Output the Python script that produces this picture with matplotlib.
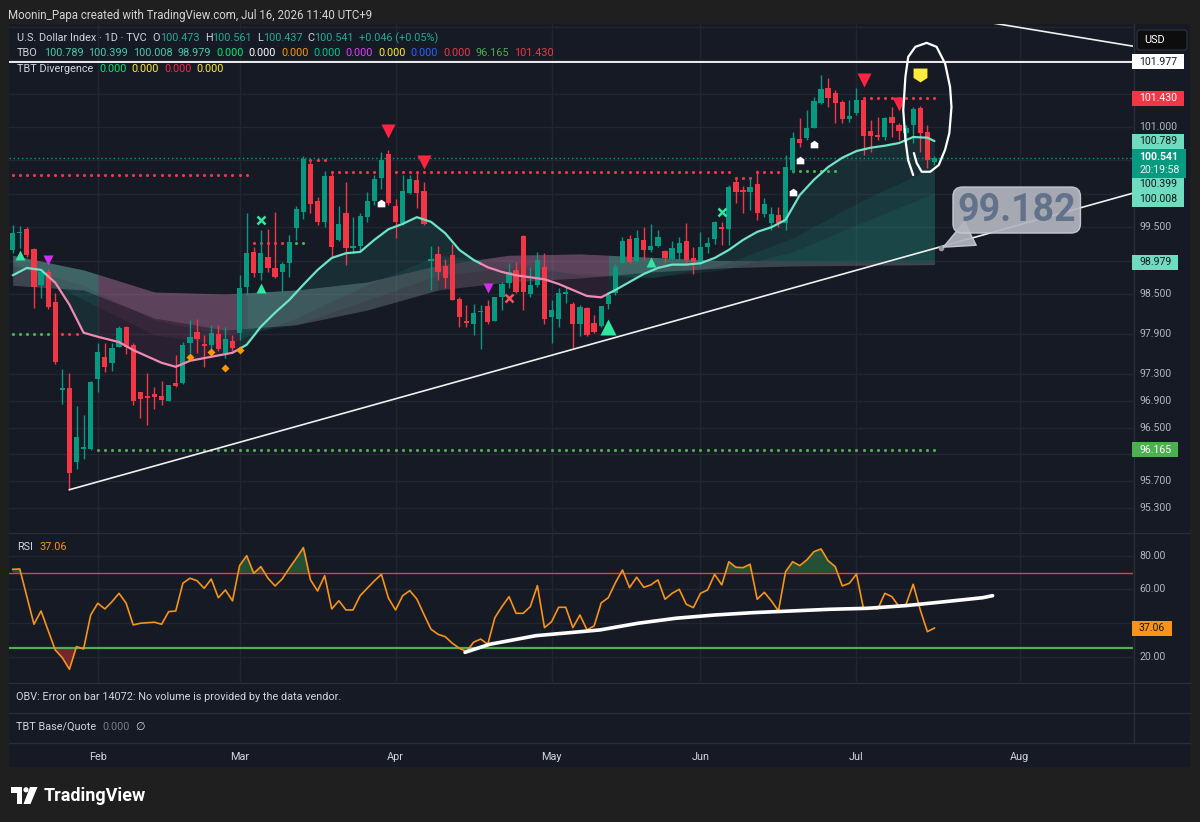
import numpy as np
import pandas as pd
import matplotlib
matplotlib.use('Agg')
import matplotlib.pyplot as plt
from matplotlib.patches import Rectangle, Circle, Polygon, FancyBboxPatch
from matplotlib.lines import Line2D
from matplotlib.transforms import IdentityTransform

####################
# DATA
####################

start_date = '2026-01-15'

opens = [99.16, 99.41, 99.47, 99.17, 98.64, 98.83, 98.38, 97.06, 97.09, 95.99,
         96.18, 96.18, 97.23, 97.56, 97.47, 97.71, 98.01, 97.74, 97.03, 96.97,
         97.00, 96.97, 96.90, 97.17, 97.17, 97.77, 97.93, 97.75, 97.74, 97.90,
         97.62, 97.80, 97.92, 98.60, 99.13, 98.81, 99.05, 98.89, 98.83, 98.96,
         99.49, 99.73, 100.45, 99.89, 99.58, 100.27, 99.31, 99.71, 99.19, 99.22,
         99.65, 99.89, 100.24, 100.60, 99.82, 99.56, 100.01, 100.21, 100.04, 98.99,
         99.10, 98.92, 99.08, 98.42, 98.10, 98.05, 98.23, 98.32, 98.10, 98.45,
         98.67, 98.86, 99.37, 98.50, 98.64, 98.90, 98.16, 98.13, 98.50, 98.35,
         98.05, 98.29, 98.07, 98.02, 98.35, 98.52, 98.96, 99.32, 98.99, 99.31,
         99.16, 99.22, 99.14, 99.02, 99.11, 99.29, 99.04, 98.98, 99.20, 99.32,
         99.50, 99.47, 100.18, 100.06, 100.03, 100.15, 99.70, 99.56, 99.68, 99.56,
         100.36, 100.82, 100.84, 100.99, 101.36, 101.58, 101.51, 101.37, 101.12, 101.21,
         101.40, 100.94, 100.88, 100.85, 101.15, 101.03, 100.91, 101.03, 101.28, 100.93,
         100.473]
highs = [99.53, 99.52, 99.50, 99.19, 98.89, 98.87, 98.52, 97.38, 97.32, 96.82,
         96.69, 97.20, 97.77, 97.77, 97.77, 98.02, 98.02, 97.77, 97.03, 97.32,
         97.11, 97.20, 97.14, 97.59, 97.78, 98.11, 98.13, 97.89, 98.04, 98.04,
         98.01, 97.89, 98.78, 99.71, 99.20, 99.46, 99.47, 99.73, 98.98, 99.38,
         99.82, 100.57, 100.50, 99.95, 100.34, 100.33, 99.82, 100.18, 99.65, 99.71,
         100.03, 100.28, 100.63, 100.65, 99.92, 100.28, 100.28, 100.33, 100.18, 99.22,
         99.22, 99.02, 99.25, 98.45, 98.34, 98.35, 98.34, 98.41, 98.45, 98.68,
         98.96, 98.98, 99.38, 98.90, 99.13, 99.11, 98.41, 98.59, 98.60, 98.38,
         98.34, 98.31, 98.19, 98.32, 98.52, 98.95, 99.35, 99.38, 99.46, 99.50,
         99.55, 99.46, 99.16, 99.29, 99.35, 99.56, 99.20, 99.43, 99.35, 99.59,
         99.58, 100.13, 100.25, 100.12, 100.25, 100.36, 99.94, 99.80, 99.80, 100.58,
         100.93, 101.14, 101.25, 101.45, 101.78, 101.73, 101.55, 101.40, 101.40, 101.58,
         101.43, 101.10, 101.15, 101.15, 101.30, 101.06, 101.03, 101.30, 101.31, 101.03,
         100.561]
lows = [99.11, 99.19, 99.05, 98.29, 98.44, 98.28, 97.45, 96.85, 95.57, 95.88,
        96.03, 96.17, 97.03, 97.33, 97.35, 97.71, 97.60, 96.84, 96.64, 96.54,
        96.78, 96.84, 96.90, 97.11, 97.15, 97.62, 97.62, 97.41, 97.62, 97.65,
        97.54, 97.65, 97.81, 98.49, 98.75, 98.71, 98.83, 98.74, 98.53, 98.75,
        99.31, 99.62, 99.71, 99.53, 99.50, 99.04, 99.29, 98.93, 99.11, 99.13,
        99.58, 99.83, 100.07, 99.83, 99.34, 99.53, 100.00, 99.79, 99.53, 98.56,
        98.71, 98.59, 98.41, 98.01, 98.01, 97.89, 97.68, 98.05, 98.10, 98.26,
        98.59, 98.52, 98.26, 98.45, 98.60, 98.05, 97.77, 98.01, 98.37, 97.69,
        97.87, 97.87, 97.92, 98.01, 98.28, 98.49, 98.96, 98.96, 98.98, 99.01,
        99.13, 99.20, 98.98, 99.01, 99.01, 98.96, 98.80, 98.93, 99.11, 99.25,
        99.23, 99.23, 99.86, 99.71, 99.76, 99.61, 99.65, 99.46, 99.50, 99.46,
        100.31, 100.70, 100.81, 100.99, 101.34, 101.30, 101.06, 101.06, 101.07, 101.18,
        100.58, 100.63, 100.81, 100.81, 100.85, 100.81, 100.78, 100.76, 100.63, 100.39,
        100.437]
closes = [99.41, 99.43, 99.08, 98.60, 98.83, 98.31, 97.48, 97.09, 95.82, 96.36,
          96.21, 97.18, 97.63, 97.41, 97.69, 97.99, 97.71, 96.90, 96.93, 96.94,
          96.96, 96.91, 97.14, 97.12, 97.74, 97.86, 97.83, 97.72, 97.92, 97.68,
          97.83, 97.69, 98.59, 99.11, 98.81, 99.11, 98.89, 98.75, 98.95, 99.28,
          99.77, 100.52, 99.85, 99.58, 100.27, 99.20, 99.55, 99.19, 99.22, 99.67,
          99.89, 100.22, 100.50, 99.86, 99.58, 100.04, 100.22, 100.01, 99.55, 99.02,
          98.83, 98.74, 98.41, 98.16, 98.07, 98.22, 98.24, 98.08, 98.45, 98.65,
          98.83, 98.53, 98.53, 98.64, 99.01, 98.13, 98.26, 98.52, 98.53, 98.05,
          98.31, 97.89, 97.93, 98.32, 98.49, 98.90, 99.29, 98.98, 99.34, 99.16,
          99.22, 99.35, 99.04, 99.19, 99.26, 99.01, 98.98, 99.20, 99.26, 99.58,
          99.47, 100.10, 100.03, 100.03, 100.10, 99.71, 99.85, 99.70, 99.56, 100.40,
          100.84, 100.76, 100.99, 101.39, 101.57, 101.43, 101.36, 101.12, 101.17, 101.40,
          100.87, 100.87, 100.85, 101.14, 101.06, 100.94, 100.99, 101.27, 100.91, 100.50,
          100.541]

# TBO fast line
fast_idx = [0, 2, 4, 6, 8, 10, 12, 15, 17, 21, 23, 25, 28] + list(range(31, 130, 2)) + [130]
fast_val = [98.78, 98.89, 98.86, 98.67, 98.34, 97.92, 97.86, 97.78, 97.66, 97.47, 97.41, 97.50, 97.56,
            97.62, 97.74, 98.01, 98.22, 98.41, 98.64, 98.86, 99.04, 99.11, 99.13,
            99.31, 99.47, 99.55, 99.65, 99.58, 99.41, 99.16, 99.01, 98.90, 98.83,
            98.78, 98.75, 98.72, 98.65, 98.56, 98.47, 98.45, 98.56, 98.68, 98.80,
            98.89, 98.94, 98.94, 98.96, 99.04, 99.16, 99.31, 99.43, 99.50, 99.61,
            99.98, 100.21, 100.40, 100.54, 100.64, 100.69, 100.72, 100.76, 100.85, 100.84,
            100.789]
bear_ranges = [(5, 32), (66, 84)]        # line colour
fill_bear_ranges = [(12, 32), (66, 84)]  # cloud colour
band_bear_ranges = [(12, 33), (60, 84)]  # slow band colour

# slower TBO lines (every 10 bars)
ribbon_idx = list(range(0, 131, 10))
med1_val = [98.98, 98.41, 97.89, 97.74, 98.14, 98.64, 99.08, 98.98, 98.78, 98.74, 98.93, 99.34, 99.91, 100.40]
med2_val = [98.93, 98.63, 98.11, 97.89, 98.04, 98.41, 98.78, 98.89, 98.81, 98.75, 98.86, 99.13, 99.58, 100.01]
slow_val = [99.08, 98.86, 98.53, 98.50, 98.56, 98.68, 98.93, 99.08, 99.10, 99.05, 99.00, 98.99, 98.98, 98.98]
slow2_val = [98.63, 98.56, 98.14, 97.96, 98.04, 98.26, 98.56, 98.68, 98.74, 98.83, 98.89, 98.92, 98.93, 98.94]

# dotted levels: first bar, last bar, price, colour
levels = [(0, 33, 100.28, 'red'), (42, 44, 100.50, 'red'), (45, 101, 100.33, 'red'),
          (102, 104, 100.24, 'red'), (105, 108, 100.33, 'red'), (110, 116, 100.34, 'green'),
          (120, 130, 101.43, 'red'), (34, 39, 99.27, 'red'), (40, 41, 99.27, 'green'),
          (0, 5, 97.90, 'green'), (7, 9, 97.90, 'red'), (12, 130, 96.165, 'green')]

# signal markers (bar, price)
up_small_x, up_small_y = [1, 35, 90], [99.08, 98.59, 98.98]
up_big_x, up_big_y = [84], [98.01]
down_mag_x, down_mag_y = [5, 67], [99.01, 98.59]
down_red_x, down_red_y = [53, 58, 120, 125], [100.94, 100.48, 101.71, 101.35]
cross_g_x, cross_g_y = [35, 100], [99.61, 99.73]
cross_r_x, cross_r_y = [70], [98.44]
tag_w_x, tag_w_y = [52, 110, 111, 113], [99.86, 100.02, 100.50, 100.75]
tag_y_x, tag_y_y = [128], [101.78]
diam_x, diam_y = [25, 28, 30, 32], [97.56, 97.63, 97.39, 97.66]

# drawings
trend_main_x, trend_main_y = [8, 158], [95.57, 100.01]
trend_top_x, trend_top_y = [130, 158], [102.70, 102.21]
hline_price = 101.977
callout_x, callout_y = 130.9, 99.182
hand_x = [127.0, 126.3, 125.9, 125.6, 125.9, 126.3, 127.3, 128.9, 130.3, 131.5, 132.2,
          132.4, 132.1, 131.5, 130.6, 129.4, 128.2, 127.5, 127.1]
hand_y = [100.28, 100.50, 100.81, 101.25, 101.75, 102.05, 102.20, 102.26, 102.20, 101.95,
          101.60, 101.30, 100.91, 100.66, 100.43, 100.33, 100.33, 100.46, 100.61]

# RSI
rsi = [72.0, 72.2, 55.7, 39.3, 47.2, 35.6, 24.0, 19.4, 12.5, 26.0,
       24.6, 44.8, 51.8, 48.4, 52.7, 57.7, 51.8, 38.9, 39.9, 40.2,
       40.5, 39.3, 46.8, 47.2, 63.7, 66.7, 65.2, 60.7, 66.2, 55.1,
       59.7, 53.2, 74.2, 80.1, 69.6, 73.6, 66.7, 62.1, 66.2, 72.6,
       78.6, 84.9, 65.7, 59.1, 68.2, 48.4, 53.3, 47.8, 47.8, 56.3,
       60.7, 65.1, 69.0, 54.8, 47.8, 56.3, 59.3, 54.3, 45.2, 36.3,
       33.3, 31.9, 28.0, 25.0, 23.0, 28.6, 30.5, 27.4, 43.2, 49.8,
       55.7, 45.8, 45.8, 49.8, 62.3, 37.3, 40.8, 49.4, 49.4, 37.3,
       44.8, 35.9, 38.3, 52.0, 55.1, 64.0, 71.6, 61.1, 67.3, 61.3,
       62.7, 65.7, 54.2, 57.7, 60.1, 51.2, 49.2, 57.7, 59.7, 69.0,
       62.7, 76.5, 73.2, 73.0, 75.0, 54.2, 58.3, 53.2, 47.2, 70.6,
       76.5, 74.2, 77.6, 82.5, 84.1, 77.1, 73.6, 62.1, 63.7, 69.2,
       48.4, 49.2, 48.4, 57.7, 55.7, 49.8, 51.2, 63.1, 47.8, 34.9,
       37.06]
rsi_tl_x = [63.8, 67.3, 73.8, 82.8, 88.2, 93.6, 99.0, 104.4, 109.8, 115.2, 120.6, 126.0, 131.4, 136.8, 138.2]
rsi_tl_y = [22.6, 27.4, 32.5, 35.9, 39.9, 42.9, 44.8, 46.2, 47.2, 48.2, 48.8, 50.4, 52.7, 55.1, 56.3]

price_ticks = [101.0, 99.5, 98.5, 97.9, 97.3, 96.9, 96.5, 95.7, 95.3]
grid_prices = [102.5, 102.0, 101.5, 101.0, 100.5, 100.0, 99.5, 99.0, 98.5, 97.9, 97.3,
               96.9, 96.5, 96.1, 95.7, 95.3]
rsi_ticks = [80, 60, 20]
rsi_grid = [80, 60, 40, 20]

####################
# STYLE
####################
W, H = 1200, 822
BG = '#161a25'
OUTER = '#1f1f1f'
GRID = '#222633'
SEP = '#2a2e39'
TXT = '#d1d4dc'
AX_TXT = '#b2b5be'
UP = '#089981'
DN = '#f23645'
MINT = '#6fdcbf'
DOT_COL = {'red': '#f23645', 'green': '#4caf50'}

plt.rcParams['font.family'] = ['Roboto', 'DejaVu Sans']

fig = plt.figure(figsize=(W / 100, H / 100), dpi=100, facecolor=OUTER)
renderer = fig.canvas.get_renderer()
ID = IdentityTransform()


def fx(x):
    return x / W


def fy(y):
    return 1 - y / H


def rect_px(x0, top, w, h, **kw):
    return Rectangle((x0, H - top - h), w, h, transform=ID, **kw)


fig.patches.append(rect_px(9, 24, 1181, 743, fc=BG, ec='none', zorder=-1))

L, R = 9, 1133


def pane(top, bottom):
    a = fig.add_axes([fx(L), fy(bottom), fx(R) - fx(L), fy(top) - fy(bottom)])
    a.set_facecolor(BG)
    a.set_xlim(-0.52, 158.0)
    for s in a.spines.values():
        s.set_visible(False)
    a.set_xticks([])
    a.set_yticks([])
    return a


ax = pane(24, 532)
ax.set_ylim(94.937, 102.542)
ax_rsi = pane(533, 682)
ax_rsi.set_ylim(4.94, 93.6)

for y in (532.5, 682.5, 712.5, 742.5):
    fig.add_artist(Line2D([fx(9), fx(1190)], [fy(y), fy(y)], color=SEP, lw=1))
fig.add_artist(Line2D([fx(1133.5)] * 2, [fy(24), fy(742.5)], color=SEP, lw=1))

# months from business days
dates = pd.bdate_range(start_date, periods=170)
month_idx = [i for i in range(1, len(dates)) if dates[i].month != dates[i - 1].month and i < 158]
month_lbl = [dates[i].strftime('%b') for i in month_idx]

for p in grid_prices:
    ax.axhline(p, color=GRID, lw=1, zorder=0)
for r in rsi_grid:
    ax_rsi.axhline(r, color=GRID, lw=1, zorder=0)
for m in month_idx:
    ax.axvline(m, color=GRID, lw=1, zorder=0)
    ax_rsi.axvline(m, color=GRID, lw=1, zorder=0)

####################
# TBO RIBBON
####################
n = len(closes)
bars = np.arange(n)
fast_full = np.interp(bars, fast_idx, fast_val)
med1_full = np.interp(bars, ribbon_idx, med1_val)
med2_full = np.interp(bars, ribbon_idx, med2_val)
slow_full = np.interp(bars, ribbon_idx, slow_val)
slow2_full = np.interp(bars, ribbon_idx, slow2_val)


def split(ranges):
    out = []
    prev = 0
    for a, b in ranges:
        out.append((prev, a, False))
        out.append((a, b, True))
        prev = b
    out.append((prev, n - 1, False))
    return out


for a, b, is_bear in split(fill_bear_ranges):
    sl = slice(a, b + 1)
    fc = '#b0568a' if is_bear else '#2bb39b'
    ax.fill_between(bars[sl], fast_full[sl], slow_full[sl], color=fc, alpha=0.13, lw=0, zorder=1)
    ax.fill_between(bars[sl], med1_full[sl], slow_full[sl], color=fc, alpha=0.10, lw=0, zorder=1)
    ax.fill_between(bars[sl], med2_full[sl], slow_full[sl], color=fc, alpha=0.10, lw=0, zorder=1)
for a, b, is_bear in split(band_bear_ranges):
    sl = slice(a, b + 1)
    band = '#a3849e' if is_bear else '#9fb2b6'
    ax.fill_between(bars[sl], slow_full[sl], slow2_full[sl], color=band, alpha=0.28, lw=0, zorder=1)

# dotted levels
for a, b, p, col in levels:
    xs = np.arange(a, b + 1)
    ax.scatter(xs, np.full(len(xs), p), s=5, color=DOT_COL[col], linewidths=0, zorder=2)

ax.axhline(closes[-1], color=UP, lw=1, ls=(0, (1, 2)), zorder=2)
ax.axhline(hline_price, color='white', lw=1.3, zorder=3)

####################
# CANDLES
####################
o = np.array(opens)
h = np.array(highs)
l = np.array(lows)
c = np.array(closes)
cols = np.where(c >= o, UP, DN)
ax.vlines(bars, l, h, colors=cols, lw=1, zorder=4)
ax.bar(bars, np.maximum(np.abs(c - o), 0.012), bottom=np.minimum(o, c), width=0.74,
       color=cols, linewidth=0, zorder=4)

for a, b, is_bear in split(bear_ranges):
    sl = slice(a, b + 1)
    ax.plot(bars[sl], fast_full[sl], color='#f08ab2' if is_bear else '#6fe3c6', lw=1.6,
            zorder=5, solid_capstyle='round')

# trend lines and drawings
ax.plot(trend_main_x, trend_main_y, color='#f0f0f0', lw=1.2, zorder=5)
ax.plot(trend_top_x, trend_top_y, color='#f0f0f0', lw=1.2, zorder=5)
ax.plot(hand_x, hand_y, color='white', lw=1.6, zorder=8, solid_capstyle='round',
        solid_joinstyle='round')

# markers
tag_up = [(-1, -1), (1, -1), (1, 0.3), (0, 1), (-1, 0.3)]
tag_down = [(-1, 1), (1, 1), (1, -0.35), (0, -1), (-1, -0.35)]
ax.plot(up_small_x, up_small_y, '^', ms=6.5, color='#2ee8a0', mec='none', zorder=6)
ax.plot(up_big_x, up_big_y, '^', ms=11.5, color='#2ee8a0', mec='none', zorder=6)
ax.plot(down_mag_x, down_mag_y, 'v', ms=6.5, color='#d42ef0', mec='none', zorder=6)
ax.plot(down_red_x, down_red_y, 'v', ms=10.5, color='#ff2440', mec='none', zorder=6)
ax.plot(cross_g_x, cross_g_y, 'x', ms=6, mew=1.8, color='#2ee8a0', zorder=6)
ax.plot(cross_r_x, cross_r_y, 'x', ms=6, mew=1.8, color='#f7525f', zorder=6)
ax.plot(tag_w_x, tag_w_y, marker=tag_up, ls='none', ms=5.5, color='white', mec='none', zorder=6)
ax.plot(tag_y_x, tag_y_y, marker=tag_down, ls='none', ms=10, color='#ffeb3b', mec='none', zorder=6)
ax.plot(diam_x, diam_y, 'D', ms=4.5, color='#ff9800', mec='none', zorder=6)

# price callout
ax.plot(callout_x, callout_y, 'o', ms=3, color='#9598a1', zorder=7)
ax.annotate(f'{callout_y:.3f}', xy=(callout_x, callout_y), xytext=(141.6, 99.757),
            textcoords='data', fontsize=27, fontweight='bold', color='#62728a',
            ha='center', va='center', zorder=7,
            bbox=dict(boxstyle='round,pad=0.12,rounding_size=0.25', fc='#b2b5be', ec='#c9ccd3',
                      lw=1, alpha=0.93),
            arrowprops=dict(arrowstyle='wedge,tail_width=0.7', fc='#b2b5be', ec='#c9ccd3',
                            lw=1, alpha=0.93, shrinkA=0, shrinkB=2))

####################
# RSI
####################
rsi_arr = np.array(rsi)
ax_rsi.axhline(70, color='#f23645', lw=1, zorder=2)
ax_rsi.axhline(25.9, color='#05070b', lw=0.8, zorder=2)
ax_rsi.axhline(25, color='#4caf50', lw=1.6, zorder=2)
ax_rsi.fill_between(bars, rsi_arr, 70, where=rsi_arr > 70, interpolate=True,
                    color='#2e7d45', alpha=0.55, lw=0, zorder=1)
ax_rsi.fill_between(bars, rsi_arr, 25, where=rsi_arr < 25, interpolate=True,
                    color='#b03030', alpha=0.6, lw=0, zorder=1)
ax_rsi.plot(bars, rsi_arr, color='#f7931a', lw=1.2, zorder=3)
ax_rsi.plot(rsi_tl_x, rsi_tl_y, color='white', lw=2.6, zorder=4, solid_capstyle='round')

####################
# TEXT
####################


def run(x, y, parts, size=7.8):
    for s, col, gap in parts:
        t = fig.text(fx(x), fy(y), s, color=col, fontsize=size, ha='left', va='center', zorder=9)
        x += t.get_window_extent(renderer).width + gap


G = '#22ab94'
run(8, 15, [('Moonin_Papa created with TradingView.com, Jul 16, 2026 11:40 UTC+9', TXT, 0)], 8.3)
run(17, 38, [('U.S. Dollar Index · 1D · TVC', TXT, 6),
             ('O', TXT, 0), ('100.473', G, 5), ('H', TXT, 0), ('100.561', G, 5),
             ('L', TXT, 0), ('100.437', G, 5), ('C', TXT, 0), ('100.541', G, 5),
             ('+0.046 (+0.05%)', G, 0)])
run(17, 53, [('TBO', TXT, 6), ('100.789', '#4fc7a8', 5), ('100.399', '#4fc7a8', 5),
             ('100.008', '#4fc7a8', 5), ('98.979', '#4fc7a8', 5), ('0.000', '#00e676', 5),
             ('0.000', '#ffffff', 5), ('0.000', '#ff9800', 5), ('0.000', '#00c98d', 5),
             ('0.000', '#e040fb', 5), ('0.000', '#ffeb3b', 5), ('0.000', '#2962ff', 5),
             ('0.000', '#f23645', 5), ('96.165', '#4caf50', 5), ('101.430', '#f23645', 0)])
run(17, 69, [('TBT Divergence', TXT, 6), ('0.000', '#00e676', 5), ('0.000', '#ffeb3b', 5),
             ('0.000', '#f7254a', 5), ('0.000', '#ffeb3b', 0)])
run(17, 547, [('RSI', TXT, 6), ('37.06', '#f7931a', 0)])
run(16, 697, [('OBV: Error on bar 14072: No volume is provided by the data vendor.', TXT, 0)])
run(16, 727, [('TBT Base/Quote', TXT, 6), ('0.000', '#787b86', 6), ('∅', TXT, 0)])


def axis_label(axx, val, text, fc=None, tc=AX_TXT, nudge=0, bold=False):
    y = H - axx.transData.transform((0, val))[1] + nudge
    t = fig.text(fx(1139), fy(y), text, color=tc, fontsize=7.6, ha='left', va='center',
                 fontweight='bold' if bold else 'normal', zorder=9)
    if fc:
        tw = t.get_window_extent(renderer).width
        fig.patches.append(rect_px(1132, y - 7.5, tw + 14, 15, fc=fc, ec='none', zorder=8))


for p in price_ticks:
    axis_label(ax, p, f'{p:.3f}')
axis_label(ax, hline_price, f'{hline_price:.3f}', 'white', '#131722')
axis_label(ax, 101.430, '101.430', '#f23645', 'white')
axis_label(ax, 100.789, '100.789', MINT, '#131722')
axis_label(ax, 100.399, '100.399', MINT, '#131722', nudge=17)
axis_label(ax, 100.008, '100.008', MINT, '#131722', nudge=6)
axis_label(ax, 98.979, '98.979', MINT, '#131722')
axis_label(ax, 96.165, '96.165', '#4caf50', 'white')

# live price box
fig.patches.append(rect_px(1132, 149, 54, 28.5, fc=UP, ec='none', zorder=8))
fig.text(fx(1139), fy(157.5), f'{closes[-1]:.3f}', color='white', fontsize=7.6,
         fontweight='bold', ha='left', va='center', zorder=9)
fig.text(fx(1139), fy(169.5), '20:19:58', color='#e8f5f1', fontsize=7.6,
         ha='left', va='center', zorder=9)

for r in rsi_ticks:
    axis_label(ax_rsi, r, f'{r:.2f}')
axis_label(ax_rsi, rsi[-1], f'{rsi[-1]:.2f}', '#f7931a', '#131722')

# USD badge
fig.patches.append(FancyBboxPatch((1137, H - 50), 50, 20, boxstyle='round,pad=0,rounding_size=3',
                                  transform=ID, fc='#0d0d0d', ec='#2a2e39', lw=1, zorder=8))
fig.text(fx(1144), fy(40), 'USD', color='white', fontsize=7.8, ha='left', va='center', zorder=9)

# time axis
for m, lbl in zip(month_idx, month_lbl):
    xp = ax.transData.transform((m, 0))[0]
    fig.text(xp / W, fy(757), lbl, color=TXT, fontsize=7.8, ha='center', va='center')

# TradingView logo
fig.patches.append(Polygon([(11, H - 787), (22, H - 787), (22, H - 804), (16.5, H - 804),
                            (16.5, H - 792.5), (11, H - 792.5)], closed=True,
                           transform=ID, fc='white', ec='none'))
fig.patches.append(Circle((26, H - 789.8), 2.6, transform=ID, fc='white', ec='none'))
fig.patches.append(Polygon([(30, H - 787), (37.5, H - 787), (30.5, H - 804), (23.5, H - 804)],
                           closed=True, transform=ID, fc='white', ec='none'))
fig.text(fx(44), fy(795.5), 'TradingView', color='white', fontsize=13, fontweight='bold',
         ha='left', va='center')

fig.savefig('out.png', dpi=100, facecolor=OUTER)
